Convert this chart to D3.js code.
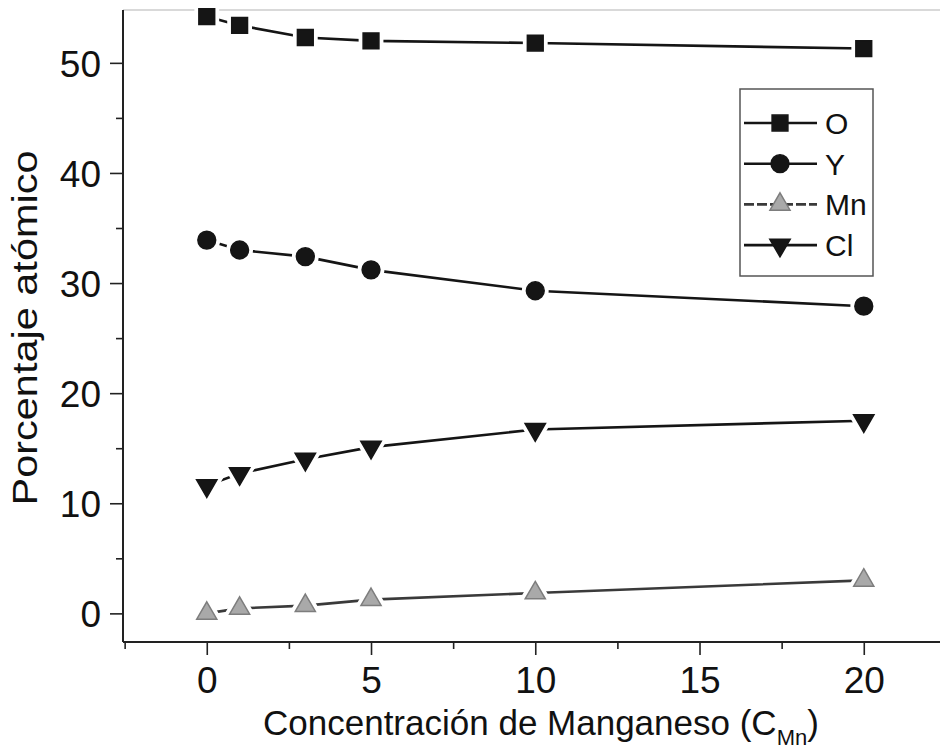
<!DOCTYPE html>
<html>
<head>
<meta charset="utf-8">
<script src="https://cdn.jsdelivr.net/npm/d3@7"></script>
<style>
  html, body { margin: 0; padding: 0; background: #fff; }
  svg { display: block; }
  text { font-family: "Liberation Sans", Arial, Helvetica, sans-serif; fill: #111; }
</style>
</head>
<body>
<svg id="chart" width="940" height="752"></svg>
<script>
// Atomic percentage of each element vs. manganese concentration
const concentration = [0, 1, 3, 5, 10, 20];
const oxygen    = [54.2, 53.4, 52.3, 52.0, 51.8, 51.3];
const yttrium   = [33.9, 33.0, 32.4, 31.2, 29.3, 27.9];
const manganese = [0.0, 0.45, 0.7, 1.25, 1.85, 3.0];
const chlorine  = [11.6, 12.7, 14.0, 15.1, 16.7, 17.5];

const seriesNames = ["O", "Y", "Mn", "Cl"];
const xMajorTicks = [0, 5, 10, 15, 20];
const xMinorTicks = [-2.5, 2.5, 7.5, 12.5, 17.5, 22.5];
const yMajorTicks = [0, 10, 20, 30, 40, 50];
const yMinorTicks = [5, 15, 25, 35, 45];

const styles = {
  O:  { symbol: d3.symbolSquare,   size: 250, rotate: 0,   fill: "#151515", stroke: "#151515", line: "#151515" },
  Y:  { symbol: d3.symbolCircle,   size: 250, rotate: 0,   fill: "#151515", stroke: "#151515", line: "#151515" },
  Mn: { symbol: d3.symbolTriangle, size: 175, rotate: 0,   fill: "#a9a9a9", stroke: "#7d7d7d", line: "#3a3a3a" },
  Cl: { symbol: d3.symbolTriangle, size: 180, rotate: 180, fill: "#151515", stroke: "#151515", line: "#151515" }
};

const series = [
  { name: "O",  values: oxygen },
  { name: "Y",  values: yttrium },
  { name: "Mn", values: manganese },
  { name: "Cl", values: chlorine }
];

const svg = d3.select("#chart");

const plotLeft = 123, plotBottom = 642, plotTop = 10;
const x = d3.scaleLinear().domain([-2.55, 22.5]).range([plotLeft, plotLeft + 25.05 * 32.85]);
const y = d3.scaleLinear().domain([-2.6, 54.8]).range([plotBottom, plotTop]);

// faint top frame line
svg.append("line")
  .attr("x1", plotLeft).attr("x2", 940).attr("y1", plotTop).attr("y2", plotTop)
  .attr("stroke", "#d9d9d9").attr("stroke-width", 2);

// Y axis
const yAxis = svg.append("g").attr("transform", `translate(${plotLeft},0)`);
yAxis.call(d3.axisLeft(y).tickValues(yMajorTicks).tickSize(13).tickPadding(9).tickFormat(d3.format("d")));
const yMinor = yAxis.append("g").call(d3.axisLeft(y).tickValues(yMinorTicks).tickSize(7).tickFormat(""));
yMinor.select(".domain").remove();
yAxis.select(".domain").attr("stroke", "#222").attr("stroke-width", 2).attr("d", `M0,${plotTop}V${plotBottom}`);
yAxis.selectAll(".tick line").attr("stroke", "#222").attr("stroke-width", 1.6);
yAxis.selectAll(".tick text").attr("font-size", 37).attr("dy", "0.36em").style("font-family", "Liberation Sans, Arial, sans-serif").attr("fill", "#111");

// X axis
const xAxis = svg.append("g").attr("transform", `translate(0,${plotBottom})`);
xAxis.call(d3.axisBottom(x).tickValues(xMajorTicks).tickSize(13).tickPadding(12).tickFormat(d3.format("d")));
const xMinor = xAxis.append("g").call(d3.axisBottom(x).tickValues(xMinorTicks).tickSize(7).tickFormat(""));
xMinor.select(".domain").remove();
xAxis.select(".domain").attr("stroke", "#222").attr("stroke-width", 2).attr("d", `M${plotLeft},0H940`);
xAxis.selectAll(".tick line").attr("stroke", "#222").attr("stroke-width", 1.6);
xAxis.selectAll(".tick text").attr("font-size", 37).attr("dy", "0.71em").style("font-family", "Liberation Sans, Arial, sans-serif").attr("fill", "#111");

// Axis titles
svg.append("text")
  .attr("transform", "translate(37,328) rotate(-90)")
  .attr("text-anchor", "middle")
  .attr("font-size", 35)
  .attr("textLength", 355)
  .attr("lengthAdjust", "spacingAndGlyphs")
  .text("Porcentaje atómico");

const xt = svg.append("text")
  .attr("x", 263).attr("y", 735)
  .attr("font-size", 35);
xt.append("tspan").text("Concentración de Manganeso (C");
xt.append("tspan").attr("font-size", 22).attr("dy", 10).text("Mn");
xt.append("tspan").attr("dy", -10).text(")");

// Series lines and markers
const line = d3.line()
  .x((d, i) => x(concentration[i]))
  .y(d => y(d));

const plot = svg.append("g");
series.forEach(s => {
  const st = styles[s.name];
  plot.append("path")
    .datum(s.values)
    .attr("d", line)
    .attr("fill", "none")
    .attr("stroke", st.line)
    .attr("stroke-width", 2.6);
});

series.forEach(s => {
  const st = styles[s.name];
  const sym = d3.symbol().type(st.symbol).size(st.size);
  const g = plot.append("g");
  // white halo leaves a small gap between connecting lines and markers
  g.selectAll("path.halo")
    .data(s.values)
    .join("path")
    .attr("class", "halo")
    .attr("d", sym)
    .attr("transform", (d, i) => `translate(${x(concentration[i])},${y(d)}) rotate(${st.rotate})`)
    .attr("fill", "#fff")
    .attr("stroke", "#fff")
    .attr("stroke-width", 9);
  g.selectAll("path.mark")
    .data(s.values)
    .join("path")
    .attr("class", "mark")
    .attr("d", sym)
    .attr("transform", (d, i) => `translate(${x(concentration[i])},${y(d)}) rotate(${st.rotate})`)
    .attr("fill", st.fill)
    .attr("stroke", st.stroke)
    .attr("stroke-width", 1.5);
});

// Legend
const legend = svg.append("g");
legend.append("rect")
  .attr("x", 740).attr("y", 89).attr("width", 133).attr("height", 187)
  .attr("fill", "#fff").attr("stroke", "#555").attr("stroke-width", 1.5);

seriesNames.forEach((name, i) => {
  const st = styles[name];
  const cy = 123 + i * 40.7;
  legend.append("line")
    .attr("x1", 744).attr("x2", 817).attr("y1", cy).attr("y2", cy)
    .attr("stroke", st.line).attr("stroke-width", 2.6)
    .attr("stroke-dasharray", name === "Mn" ? "10,3" : null);
  legend.append("path")
    .attr("d", d3.symbol().type(st.symbol).size(st.size)())
    .attr("transform", `translate(780,${cy}) rotate(${st.rotate})`)
    .attr("fill", st.fill).attr("stroke", st.stroke).attr("stroke-width", 1.5);
  legend.append("text")
    .attr("x", 825).attr("y", cy)
    .attr("dy", "0.36em")
    .attr("font-size", 30)
    .text(name);
});
</script>
</body>
</html>
